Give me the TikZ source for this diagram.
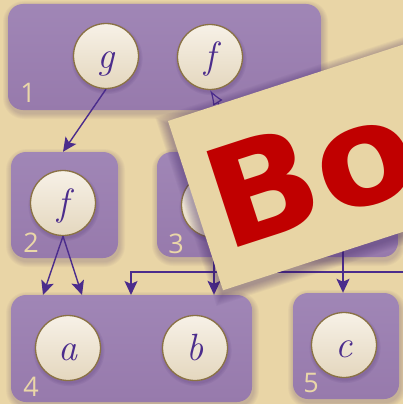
\documentclass[tikz,border=0pt]{standalone}
\usepackage{fontspec}
\newfontfamily\cardfont{DejaVu Sans}
\newfontfamily\numfont{Open Sans}
\usetikzlibrary{arrows.meta,calc}
\definecolor{bg}{HTML}{E9D5A6}
\definecolor{boxtop}{HTML}{A086B6}
\definecolor{boxbot}{HTML}{977AAC}
\definecolor{balltop}{HTML}{F7F1E7}
\definecolor{ballbot}{HTML}{E4D7BE}
\definecolor{ballrim}{HTML}{8A7245}
\definecolor{ink}{HTML}{4B2C8C}
\definecolor{numcol}{HTML}{EAD7A8}
\definecolor{cardfill}{HTML}{E8D5A5}
\definecolor{cardred}{HTML}{C00000}
\definecolor{shadowcol}{HTML}{3E2466}
\begin{document}
\begin{tikzpicture}[x=1pt,y=-1pt,
  box/.style={rounded corners=15pt, inner sep=0pt, top color=boxtop, bottom color=boxbot, draw=none},
  ball/.style={circle, minimum size=65pt, inner sep=0pt, draw=ballrim, line width=1.3pt,
    top color=balltop, bottom color=ballbot, text=ink,
    font=\fontsize{38}{40}\selectfont\itshape, text height=24pt, text depth=0pt},
  num/.style={text=numcol, font=\numfont\fontsize{27}{30}\selectfont, inner sep=0pt},
  arr/.style={draw=ink, line width=1.4pt, -{Stealth[length=14pt,width=13pt,inset=3pt]}},
  openarr/.style={draw=ink, line width=1.2pt, -{Latex[open,length=15pt,width=11pt]}}]
\useasboundingbox (0,0) rectangle (403,404);
\clip (0,0) rectangle (403,404);
\fill[bg] (0,0) rectangle (403,404);

% boxes
\coordinate (c1) at (164.5,57);
\coordinate (c2) at (64.5,205);
\coordinate (c3) at (277.5,204.5);
\coordinate (c4) at (131.5,348.5);
\coordinate (c5) at (346,346);
\foreach \c/\w/\h in {c1/313/106, c2/107/106, c3/241/105, c4/241/107, c5/106/106}{
  \foreach \d in {1,...,6}{
    \pgfmathsetmacro\rr{15+\d}
    \fill[shadowcol, opacity=0.035, rounded corners=\rr pt]
      ($(\c)+(-\w/2-\d+1,-\h/2-\d+3)$) rectangle ($(\c)+(\w/2+\d+1,\h/2+\d+3)$);
  }
}
\node[box, minimum width=313pt, minimum height=106pt] (box1) at (c1) {};
\node[box, minimum width=107pt, minimum height=106pt] (box2) at (c2) {};
\node[box, minimum width=241pt, minimum height=105pt] (box3) at (c3) {};
\node[box, minimum width=241pt, minimum height=107pt] (box4) at (c4) {};
\node[box, minimum width=106pt, minimum height=106pt] (box5) at (c5) {};

% box numbers
\node[num] (n1) at (28,93) {1};
\node[num] (n2) at (31,243) {2};
\node[num] (n3) at (176,244) {3};
\node[num] (n4) at (31,387) {4};
\node[num] (n5) at (311,383) {5};

% ball shadows
\foreach \px/\py in {106/56, 210/57, 63/203, 214/205, 343/205, 68/348, 195/348, 344/345}{
  \foreach \d in {1,2,3}{
    \pgfmathsetmacro\sr{32+\d*1.2}
    \fill[shadowcol, opacity=0.07] (\px+1,\py+2.5) circle (\sr pt);
  }
}

% balls
\node[ball] (g) at (106,56) {g};
\node[ball] (f1) at (210,57) {f};
\node[ball] (f2) at (63,203) {f};
\node[ball] (h1) at (214,205) {};
\node[ball] (h2) at (343,205) {};
\node[ball] (a) at (68,348) {a};
\node[ball] (b) at (195,348) {b};
\node[ball] (c) at (344,345) {c};

% connectors
\coordinate (t1) at (43,295);
\coordinate (t2) at (82,295);
\coordinate (t3) at (131,295);
\coordinate (rr) at (430,272);
\draw[arr] (g.south) -- (f2 |- box2.north);
\draw[arr] (f2.south) -- (t1);
\draw[arr] (f2.south) -- (t2);
\draw[arr] (h1.south) -- (h1.south |- box4.north);
\draw[arr] (rr) -| (t3);
\draw[arr] (h2.south) -- (h2.south |- box5.north);
\draw[openarr] (h2) to[out=150, in=-58] (f1.south);

% card
\begin{scope}[shift={(168,121)}, rotate=18, transform shape]
  \foreach \d in {1,...,10}{
    \fill[shadowcol, opacity=0.045] (-\d-1,-\d+3) rectangle (600+\d,178+\d+3);
  }
  \fill[cardfill] (0,0) rectangle (600,178);
  \node[anchor=base west, inner sep=0pt, text=cardred, xscale=1.05,
    font=\cardfont\bfseries\fontsize{138}{140}\selectfont] (title) at (14,142) {Bot};
\end{scope}
\end{tikzpicture}
\end{document}
